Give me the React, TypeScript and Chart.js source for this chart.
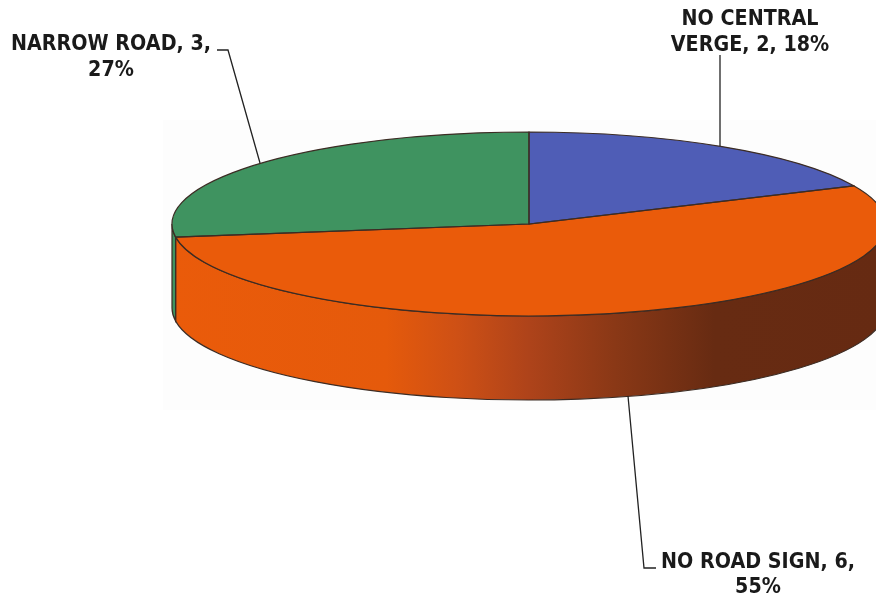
import React, { useEffect, useRef } from "react";
import { Chart, registerables } from "chart.js";

Chart.register(...registerables);

const categories = ["NO CENTRAL VERGE", "NO ROAD SIGN", "NARROW ROAD"];
const values = [2, 6, 3];
const sliceColors = ["#4F5DB6", "#EA5B0A", "#3F9360"];
const sideColors = ["#3A3F7C", "#EA5B0A", "#3F9360"];
const labelLines = [
  ["NO CENTRAL", "VERGE, 2, 18%"],
  ["NO ROAD SIGN, 6,", "55%"],
  ["NARROW ROAD, 3,", "27%"],
];

const W = 876;
const H = 596;
const CX = 529;
const CY = 224;
const RX = 357;
const RY = 92;
const DEPTH = 84;
const EDGE = "#3C2C24";

const labelPos = [
  { x: 750, y: [25, 51] },
  { x: 758, y: [568, 593] },
  { x: 111, y: [50, 76] },
];
const leaders: number[][][] = [
  [[720, 55], [720, 146]],
  [[628, 396], [644, 568], [656, 568]],
  [[217, 50], [228, 50], [260, 163]],
];

const arcsOf = (chart: any) => chart.getDatasetMeta(0).data as any[];

const pieSkin = {
  id: "pieSkin",
  beforeDatasetsDraw(chart: any) {
    const ctx = chart.ctx as CanvasRenderingContext2D;
    // faint page-scan panel behind the pie
    ctx.fillStyle = "#FDFDFD";
    ctx.fillRect(163, 120, W - 163, 290);

    const arcs = arcsOf(chart);
    const grad = ctx.createLinearGradient(CX - RX, 0, CX + RX, 0);
    grad.addColorStop(0, "#EA5B0A");
    grad.addColorStop(0.3, "#E55A0B");
    grad.addColorStop(0.4, "#CE5015");
    grad.addColorStop(0.5, "#AE431A");
    grad.addColorStop(0.62, "#8A3816");
    grad.addColorStop(0.76, "#672B12");
    grad.addColorStop(1, "#662A12");

    // rim of the disc: only the part of each slice facing the viewer
    arcs.forEach((arc, i) => {
      const a = Math.max(arc.startAngle, 0);
      const b = Math.min(arc.endAngle, Math.PI);
      const a2 = Math.max(arc.startAngle - 2 * Math.PI, 0);
      const b2 = Math.min(arc.endAngle - 2 * Math.PI, Math.PI);
      const from = b > a ? a : a2;
      const to = b > a ? b : b2;
      if (to <= from) return;
      ctx.beginPath();
      ctx.ellipse(CX, CY, RX, RY, 0, from, to);
      ctx.ellipse(CX, CY + DEPTH, RX, RY, 0, to, from, true);
      ctx.closePath();
      ctx.fillStyle = i === 1 ? grad : sideColors[i];
      ctx.fill();
      ctx.strokeStyle = EDGE;
      ctx.lineWidth = 1.2;
      ctx.stroke();
    });

    // squash the library's circular arcs into the tilted ellipse
    const first = arcs[0];
    ctx.save();
    ctx.translate(CX, CY);
    ctx.scale(RX / first.outerRadius, RY / first.outerRadius);
    ctx.translate(-first.x, -first.y);
  },
  afterDatasetsDraw(chart: any) {
    const ctx = chart.ctx as CanvasRenderingContext2D;
    ctx.restore();
    const arcs = arcsOf(chart);

    ctx.strokeStyle = EDGE;
    ctx.lineWidth = 1.2;
    arcs.forEach((arc) => {
      ctx.beginPath();
      ctx.moveTo(CX, CY);
      ctx.ellipse(CX, CY, RX, RY, 0, arc.startAngle, arc.endAngle);
      ctx.closePath();
      ctx.stroke();
    });

    // leader lines
    ctx.strokeStyle = "#222222";
    ctx.lineWidth = 1.3;
    leaders.forEach((pts) => {
      ctx.beginPath();
      pts.forEach(([x, y], k) => (k ? ctx.lineTo(x, y) : ctx.moveTo(x, y)));
      ctx.stroke();
    });

    // labels
    ctx.fillStyle = "#1A1A1A";
    ctx.font = "bold 20px 'DejaVu Sans'";
    ctx.textAlign = "center";
    ctx.textBaseline = "alphabetic";
    labelLines.forEach((lines, i) => {
      lines.forEach((t, k) => {
        ctx.save();
        ctx.translate(labelPos[i].x, labelPos[i].y[k]);
        ctx.scale(0.957, 1.03);
        ctx.fillText(t, 0, 0);
        ctx.restore();
      });
    });
  },
};

export default function App() {
  const ref = useRef<HTMLCanvasElement>(null);
  useEffect(() => {
    const chart = new Chart(ref.current!, {
      type: "pie",
      data: {
        labels: categories,
        datasets: [
          {
            data: values,
            backgroundColor: sliceColors,
            borderWidth: 0,
            clip: false,
          } as any,
        ],
      },
      options: {
        animation: false,
        responsive: false,
        radius: 357,
        plugins: { legend: { display: false }, tooltip: { enabled: false } },
      } as any,
      plugins: [pieSkin],
    });
    return () => chart.destroy();
  }, []);
  return (
    <canvas
      ref={ref}
      width={W}
      height={H}
      style={{ position: "absolute", left: 0, top: 0, width: W, height: H, display: "block" }}
    />
  );
}
